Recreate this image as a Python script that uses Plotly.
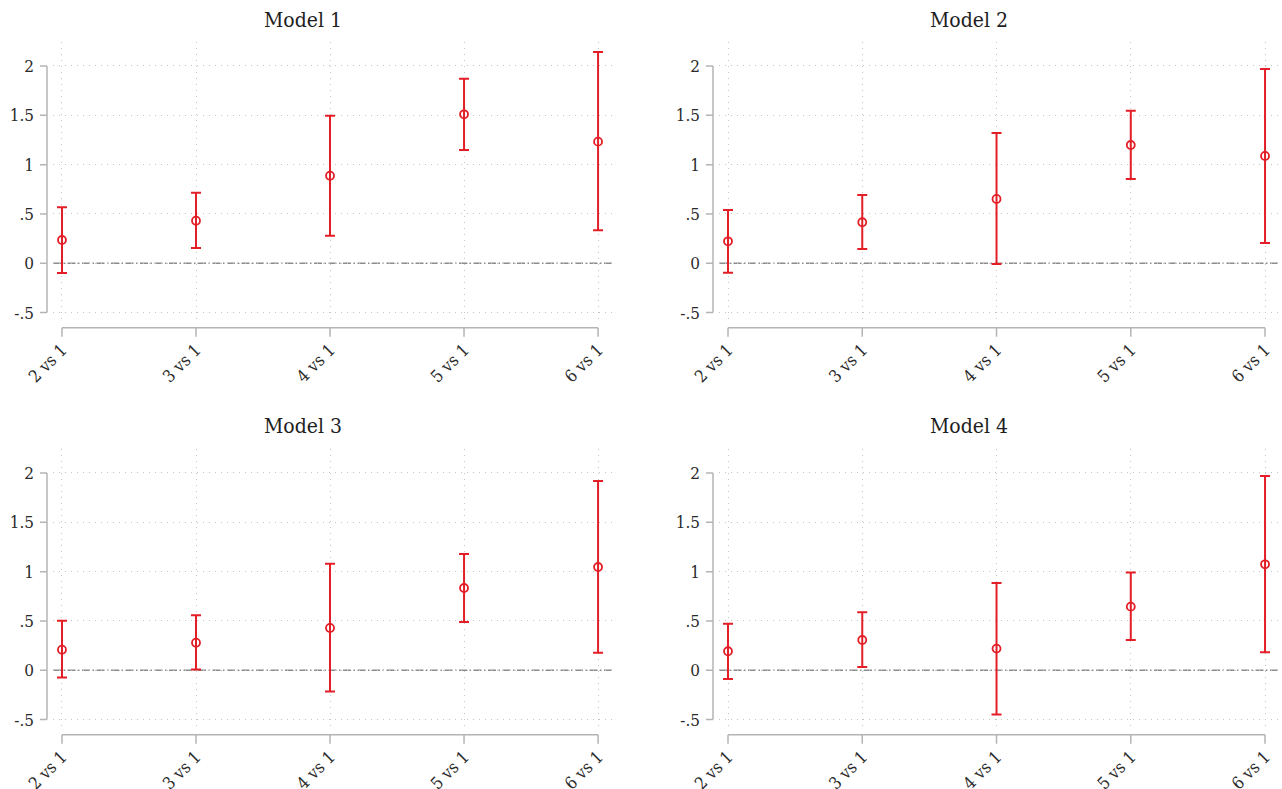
import plotly.graph_objects as go

W, H = 1282, 789

categories = ["2 vs 1", "3 vs 1", "4 vs 1", "5 vs 1", "6 vs 1"]
titles = ["Model 1", "Model 2", "Model 3", "Model 4"]

m1_est = [0.236, 0.432, 0.888, 1.510, 1.233]
m1_lo = [-0.098, 0.155, 0.280, 1.148, 0.335]
m1_hi = [0.568, 0.716, 1.496, 1.871, 2.142]

m2_est = [0.223, 0.416, 0.652, 1.199, 1.088]
m2_lo = [-0.095, 0.145, -0.007, 0.855, 0.206]
m2_hi = [0.541, 0.693, 1.321, 1.547, 1.970]

m3_est = [0.209, 0.280, 0.429, 0.834, 1.047]
m3_lo = [-0.074, 0.007, -0.216, 0.490, 0.179]
m3_hi = [0.503, 0.557, 1.081, 1.179, 1.919]

m4_est = [0.193, 0.307, 0.220, 0.645, 1.074]
m4_lo = [-0.088, 0.034, -0.449, 0.307, 0.182]
m4_hi = [0.473, 0.588, 0.885, 0.990, 1.970]

ytick_vals = [-0.5, 0, 0.5, 1, 1.5, 2]
ytick_text = ["-.5", "0", ".5", "1", "1.5", "2"]

models = [(m1_est, m1_lo, m1_hi), (m2_est, m2_lo, m2_hi),
          (m3_est, m3_lo, m3_hi), (m4_est, m4_lo, m4_hi)]

FONT = "DejaVu Serif Condensed, DejaVu Serif, Liberation Serif, serif"
RED = "#E31E26"
AXIS = "#b4b4b4"
GRID = "#c4c4c4"
TXT = "#2a2a2a"

# panel pixel boxes: (left, right, top, bottom)
boxes = [(53, 612, 41.7, 321.7), (719, 1279, 41.7, 321.7),
         (53, 612, 448.7, 728.7), (719, 1279, 448.7, 728.7)]
title_pos = [(303, 20), (969, 20), (303, 426), (969, 426)]

fig = go.Figure()
shapes = []
annotations = []
layout = {}

for i, ((est, lo, hi), (l, r, t, b)) in enumerate(zip(models, boxes)):
    n = i + 1
    xa = "x" if n == 1 else f"x{n}"
    ya = "y" if n == 1 else f"y{n}"
    fig.add_trace(go.Scatter(
        x=categories, y=est, mode="markers",
        xaxis=xa, yaxis=ya, showlegend=False,
        marker=dict(symbol="circle-open", size=8, color=RED,
                    line=dict(width=1.8, color=RED)),
        error_y=dict(type="data", symmetric=False,
                     array=[h - e for h, e in zip(hi, est)],
                     arrayminus=[e - lo_ for e, lo_ in zip(est, lo)],
                     color=RED, thickness=2, width=5),
    ))
    pw = r - l
    ph = b - t
    layout[f"xaxis{'' if n == 1 else n}"] = dict(
        domain=[l / W, r / W], anchor=ya, type="category",
        range=[-0.067, 4.104], showline=False, zeroline=False,
        showgrid=True, gridcolor=GRID, griddash="1px,5px", gridwidth=1,
        ticks="", tickangle=-45, ticklabelstandoff=14, automargin=False,
        tickfont=dict(family=FONT, size=17, color=TXT),
        fixedrange=True,
    )
    layout[f"yaxis{'' if n == 1 else n}"] = dict(
        domain=[1 - b / H, 1 - t / H], anchor=xa,
        range=[-0.592, 2.246], showline=False, zeroline=False,
        showgrid=True, gridcolor=GRID, griddash="1px,5px", gridwidth=1,
        tickvals=ytick_vals, ticktext=ytick_text, ticks="",
        ticklabelstandoff=18, automargin=False,
        tickfont=dict(family=FONT, size=17, color=TXT),
        fixedrange=True,
    )
    xd = xa + " domain"
    yd = ya + " domain"
    yoff = -6 / pw
    xoff = -6 / ph
    # zero reference line
    shapes.append(dict(type="line", xref=xd, yref=ya, x0=0, x1=1, y0=0, y1=0,
                       line=dict(color="#8c8c8c", width=1.5,
                                 dash="8px,2.5px,1.5px,2.5px"), layer="below"))
    # y axis line
    shapes.append(dict(type="line", xref=xd, yref=ya, x0=yoff, x1=yoff,
                       y0=ytick_vals[0], y1=ytick_vals[-1],
                       line=dict(color=AXIS, width=1.5)))
    for v in ytick_vals:
        shapes.append(dict(type="line", xref=xd, yref=ya, x0=yoff, x1=yoff - 7 / pw,
                           y0=v, y1=v, line=dict(color=AXIS, width=1.5)))
    # x axis line
    shapes.append(dict(type="line", xref=xa, yref=yd, x0=0, x1=len(categories) - 1,
                       y0=xoff, y1=xoff, line=dict(color=AXIS, width=1.5)))
    for k in range(len(categories)):
        shapes.append(dict(type="line", xref=xa, yref=yd, x0=k, x1=k,
                           y0=xoff, y1=xoff - 9 / ph, line=dict(color=AXIS, width=1.5)))
    tx, ty = title_pos[i]
    annotations.append(dict(text=titles[i], xref="paper", yref="paper",
                            x=tx / W, y=1 - ty / H, xanchor="center", yanchor="middle",
                            showarrow=False,
                            font=dict(family=FONT, size=21, color="#1e1e1e")))

fig.update_layout(
    width=W, height=H, margin=dict(l=0, r=0, t=0, b=0, autoexpand=False),
    paper_bgcolor="white", plot_bgcolor="white",
    shapes=shapes, annotations=annotations, **layout,
)

fig.write_html("out.html", config={"displayModeBar": False},
               post_script="document.body.style.margin='0';document.body.style.overflow='hidden';")
